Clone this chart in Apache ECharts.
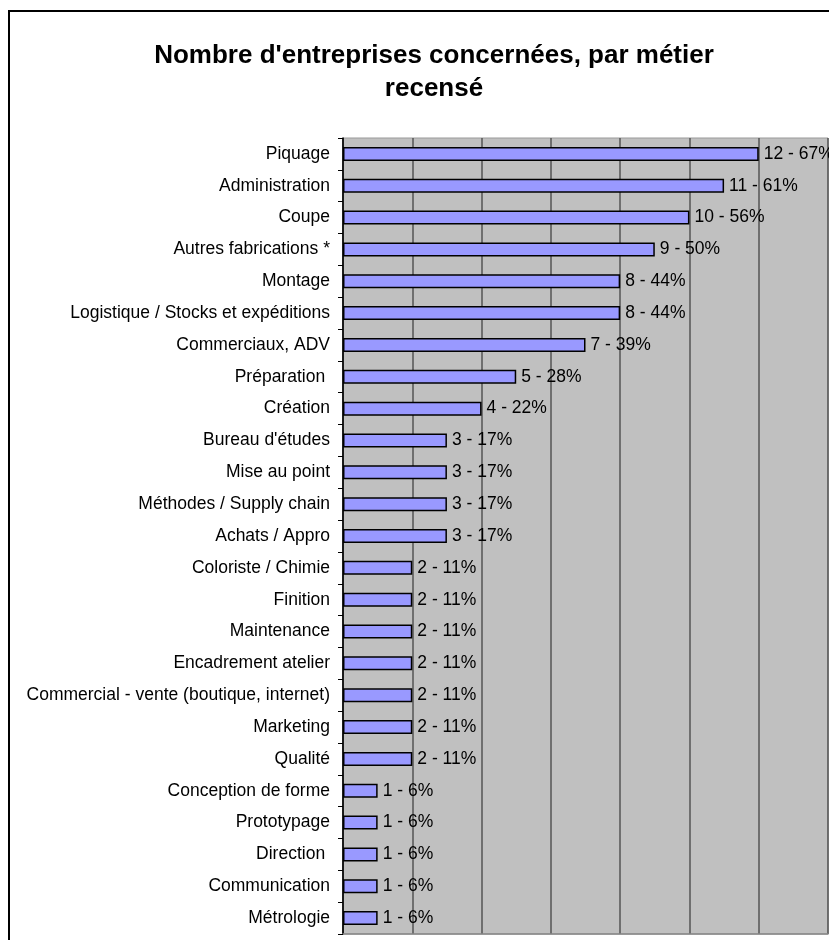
<!DOCTYPE html>
<html>
<head>
<meta charset="utf-8">
<script src="https://cdn.jsdelivr.net/npm/echarts@6/dist/echarts.min.js"></script>
<style>
  html, body { margin: 0; padding: 0; background: #fff; }
  #chart { width: 829px; height: 940px; }
</style>
</head>
<body>
<div id="chart"></div>
<script>
// métiers, du haut vers le bas
const categories = [
  'Piquage', 'Administration', 'Coupe', 'Autres fabrications *', 'Montage',
  'Logistique / Stocks et expéditions', 'Commerciaux, ADV', 'Préparation ', 'Création',
  "Bureau d'études", 'Mise au point', 'Méthodes / Supply chain', 'Achats / Appro',
  'Coloriste / Chimie', 'Finition', 'Maintenance', 'Encadrement atelier',
  'Commercial - vente (boutique, internet)', 'Marketing', 'Qualité',
  'Conception de forme', 'Prototypage', 'Direction ', 'Communication', 'Métrologie'
]
const counts = [12, 11, 10, 9, 8, 8, 7, 5, 4, 3, 3, 3, 3, 2, 2, 2, 2, 2, 2, 2, 1, 1, 1, 1, 1]
const percents = [67, 61, 56, 50, 44, 44, 39, 28, 22, 17, 17, 17, 17, 11, 11, 11, 11, 11, 11, 11, 6, 6, 6, 6, 6]

const font = 'Liberation Sans, Arial, sans-serif'
const chart = echarts.init(document.getElementById('chart'))

const option = {
  animation: false,
  backgroundColor: '#fff',
  title: {
    text: "Nombre d'entreprises concernées, par métier\nrecensé",
    left: 429,
    top: 34,
    textAlign: 'center',
    textStyle: {
      fontFamily: font,
      fontWeight: 'bold',
      fontSize: 26,
      lineHeight: 33,
      color: '#000',
    },
  },
  graphic: [
    {
      type: 'rect',
      shape: { x: 9, y: 11, width: 900, height: 1000 },
      style: { fill: 'none', stroke: '#000', lineWidth: 2 },
      z: 100,
    },
  ],
  grid: {
    left: 343,
    right: 1,
    top: 138,
    bottom: 6,
    show: true,
    backgroundColor: '#c0c0c0',
    borderColor: '#999',
    borderWidth: 1,
  },
  xAxis: {
    type: 'value',
    min: 0,
    max: 14,
    interval: 2,
    axisLabel: { show: false },
    axisTick: { show: false },
    axisLine: { show: true, lineStyle: { color: '#888', width: 1.5 } },
    splitLine: { show: true, lineStyle: { color: '#555', width: 1.5 } },
  },
  yAxis: {
    type: 'category',
    inverse: true,
    data: categories,
    axisLine: { show: true, lineStyle: { color: '#000', width: 1.5 } },
    axisTick: { show: true, length: 5, lineStyle: { color: '#000', width: 1 } },
    axisLabel: {
      margin: 13,
      fontFamily: font,
      fontSize: 17.5,
      color: '#000',
      interval: 0,
    },
  },
  series: [
    {
      type: 'bar',
      data: counts,
      barWidth: 14,
      itemStyle: { color: '#9999ff', borderColor: '#000', borderWidth: 1.5 },
      label: {
        show: true,
        position: 'right',
        distance: 5,
        fontFamily: font,
        fontSize: 17.5,
        color: '#000',
        formatter: (p) => counts[p.dataIndex] + ' - ' + percents[p.dataIndex] + '%',
      },
    },
  ],
}
chart.setOption(option)
</script>
</body>
</html>
